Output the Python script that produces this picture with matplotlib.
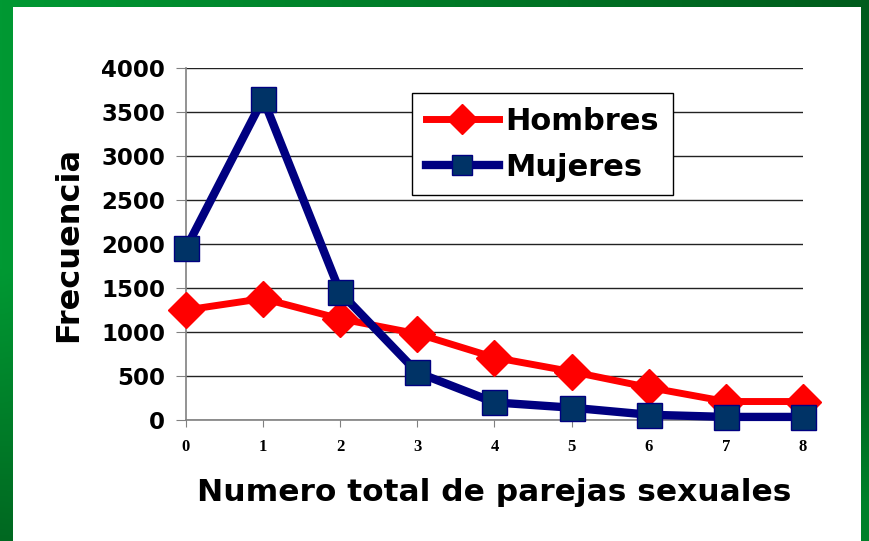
import numpy as np
import matplotlib
matplotlib.use('Agg')
import matplotlib.pyplot as plt
from matplotlib.patches import Rectangle

# datos
parejas = [0, 1, 2, 3, 4, 5, 6, 7, 8]
hombres = [1250, 1380, 1150, 980, 710, 550, 370, 210, 210]
mujeres = [1950, 3650, 1450, 540, 200, 140, 60, 35, 35]
yticks = [0, 500, 1000, 1500, 2000, 2500, 3000, 3500, 4000]

W, H = 870, 541
fig = plt.figure(figsize=(W / 100, H / 100), dpi=100)

# marco verde con degradado
bg = fig.add_axes([0, 0, 1, 1], zorder=-2)
xx, yy = np.meshgrid(np.linspace(0, 1, 200), np.linspace(0, 1, 200))
c1 = np.array([0.0, 0.60, 0.20])
c2 = np.array([0.0, 0.36, 0.11])
left = np.clip((yy - 0.5) * 1.6, 0, 0.9)
right = 1 - np.clip((yy - 0.6) * 1.8, 0, 0.6)
t = (1 - xx) * left + xx * right
img = c1[None, None, :] * (1 - t[..., None]) + c2[None, None, :] * t[..., None]
bg.imshow(img, extent=[0, 1, 0, 1], aspect='auto')
bg.axis('off')
fig.patches.append(Rectangle((13 / W, 0), (861 - 13) / W, (H - 7) / H,
                             transform=fig.transFigure, facecolor='white',
                             edgecolor='none', zorder=-1))

ax = fig.add_axes([186 / W, (H - 420) / H, (803 - 186) / W, (420 - 68) / H])
ax.set_xlim(0, 8)
ax.set_ylim(0, 4000)
ax.set_yticks(yticks)
ax.set_xticks(parejas)
ax.yaxis.grid(True, color='#222222', linewidth=1)
ax.set_axisbelow(True)
for s in ['top', 'right']:
    ax.spines[s].set_visible(False)
ax.spines['left'].set_color('#808080')
ax.spines['bottom'].set_color('#808080')
ax.spines['left'].set_linewidth(1.2)
ax.spines['bottom'].set_linewidth(1.2)
ax.tick_params(axis='y', length=7, color='#808080', pad=8)
ax.tick_params(axis='x', length=5, color='#808080', pad=9)

for lab in ax.get_yticklabels():
    lab.set_fontfamily('DejaVu Sans')
    lab.set_fontweight('bold')
    lab.set_fontsize(16.5)
for lab in ax.get_xticklabels():
    lab.set_fontfamily('Liberation Serif')
    lab.set_fontweight('bold')
    lab.set_fontsize(12)

ax.plot(parejas, hombres, color='#ff0000', linewidth=5, marker='D',
        markersize=18, markerfacecolor='#ff0000', markeredgecolor='#ff0000',
        label='Hombres', clip_on=False, zorder=3)
ax.plot(parejas, mujeres, color='#000080', linewidth=6, marker='s',
        markersize=18, markerfacecolor='#003366', markeredgecolor='#000080',
        label='Mujeres', clip_on=False, zorder=4)

ax.set_ylabel('Frecuencia', fontsize=23, fontweight='bold', labelpad=12)
ax.set_xlabel('Numero total de parejas sexuales', fontsize=22.5,
              fontweight='bold', labelpad=16)

leg = ax.legend(loc='upper left', bbox_to_anchor=((412 - 186) / (803 - 186), (420 - 93) / (420 - 68)),
                prop={'weight': 'bold', 'size': 22}, borderaxespad=0,
                frameon=True, fancybox=False, framealpha=1,
                edgecolor='black', handlelength=2.4, borderpad=0.45,
                labelspacing=0.55, handletextpad=0.2)
leg.get_frame().set_linewidth(1)
for h in leg.legend_handles:
    h.set_markersize(15)

fig.savefig('out.png', dpi=100)
